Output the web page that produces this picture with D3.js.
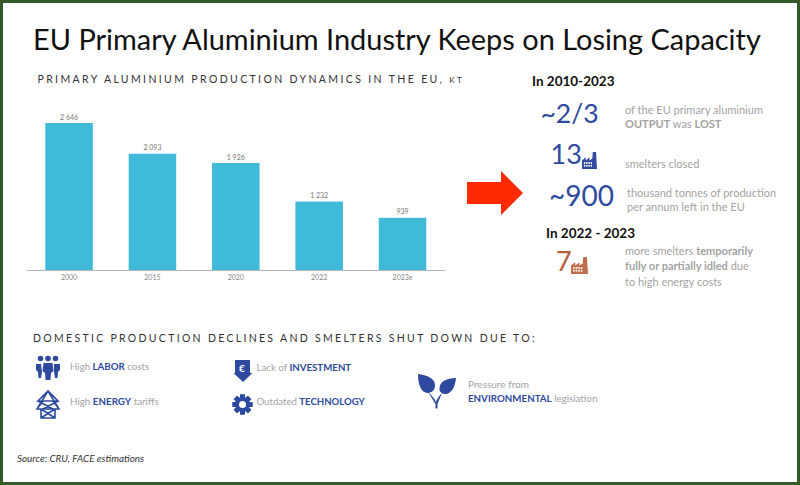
<!DOCTYPE html>
<html><head><meta charset="utf-8">
<script src="https://cdn.jsdelivr.net/npm/d3@7/dist/d3.min.js"></script>
<style>html,body{margin:0;padding:0;background:#fff}svg{display:block}text{font-family:Lato,sans-serif}</style>
</head><body><svg id="c" width="800" height="485"></svg>
<script>
const categories=["2000","2015","2020","2022","2023e"];
const values=[2646,2093,1926,1232,939];
const valueLabels=["2 646","2 093","1 926","1 232","939"];
const BLUE="#2e4a9e",GREY="#a3a3a3",BAR="#3fbad9",BROWN="#b5613a";

const svg=d3.select("#c");
svg.append("rect").attr("x",1.5).attr("y",1.5).attr("width",797).attr("height",482)
  .attr("fill","#fff").attr("stroke","#335a28").attr("stroke-width",3);

function txt(x,y,size,fill,parts,opts={}){
  const t=svg.append("text").attr("x",x).attr("y",y).attr("font-size",size).attr("fill",fill);
  if(opts.ls)t.attr("letter-spacing",opts.ls);
  if(opts.anchor)t.attr("text-anchor",opts.anchor);
  if(opts.italic)t.attr("font-style","italic");
  if(opts.weight)t.attr("font-weight",opts.weight);
  (Array.isArray(parts)?parts:[parts]).forEach(p=>{
    if(typeof p==="string")t.append("tspan").text(p);
    else{const s=t.append("tspan").text(p.t);if(p.b)s.attr("font-weight",700);if(p.c)s.attr("fill",p.c);if(p.s)s.attr("font-size",p.s);}
  });
  return t;
}

txt(33,50,28.95,"#111","EU Primary Aluminium Industry Keeps on Losing Capacity");
txt(37.5,83,10.5,"#333",["PRIMARY ALUMINIUM PRODUCTION DYNAMICS IN THE EU, ",{t:"KT",s:8}],{ls:"2.37"});

const x=d3.scaleBand().domain(categories).range([45.3,426.3]).paddingInner(0.43).paddingOuter(0);
const y=d3.scaleLinear().domain([0,2646]).range([270,123]);
svg.append("g").selectAll("rect").data(values).join("rect")
  .attr("x",(d,i)=>x(categories[i])).attr("width",x.bandwidth())
  .attr("y",d=>y(d)).attr("height",d=>y(0)-y(d)).attr("fill",BAR);
svg.append("g").selectAll("text").data(values).join("text")
  .attr("x",(d,i)=>x(categories[i])+x.bandwidth()/2).attr("y",d=>y(d)-3.5)
  .attr("text-anchor","middle").attr("font-size",7).attr("fill","#777")
  .text((d,i)=>valueLabels[i]);
const ax=svg.append("g").attr("transform","translate(0,270)")
  .call(d3.axisBottom(x).tickSize(0).tickPadding(5));
ax.select(".domain").remove();
ax.selectAll("text").attr("font-size",7).attr("fill","#888").style("font-family","Lato,sans-serif");
svg.append("line").attr("x1",27).attr("x2",445).attr("y1",270.5).attr("y2",270.5).attr("stroke","#b5b8bb").attr("stroke-width",1);

// red arrow
svg.append("path").attr("d","M467 182H501V171L523 193L501 215V204H467Z").attr("fill","#ff2a00");

// right column
txt(532,86,13.5,"#111","In 2010-2023",{weight:700});
txt(540.5,123,26.5,BLUE,"~2/3");
txt(625,114,11,GREY,"of the EU primary aluminium");
txt(625,128,11,GREY,[{t:"OUTPUT",b:1}," was ",{t:"LOST",b:1}]);
txt(550.5,164,27,BLUE,"13");
factory(582,152,15,17,BLUE);
txt(625,168,11,GREY,"smelters closed");
txt(549,206,28,BLUE,"~900");
txt(627,197,11,GREY,"thousand tonnes of production");
txt(627,211,11,GREY,"per annum left in the EU");
txt(546,238,13.5,"#111","In 2022 - 2023",{weight:700});
txt(556,271,27,BROWN,"7");
factory(571,257,17,17,"#bf6f4c");
txt(625,255,11,GREY,["more smelters ",{t:"temporarily",b:1}]);
txt(625,270,11,GREY,[{t:"fully or partially idled",b:1}," due"]);
txt(625,286,11,GREY,"to high energy costs");

function factory(px,py,w,h,c){
  const g=svg.append("g").attr("transform",`translate(${px},${py}) scale(${w/16},${h/16})`);
  g.append("path").attr("fill",c).attr("d","M0 16V8L4 5V8L8 5V8L11 6L11.5 0H15L16 16Z");
  for(let r=0;r<2;r++)for(let k=0;k<4;k++)
    g.append("rect").attr("x",2+k*2.4).attr("y",9.5+r*2.6).attr("width",1.5).attr("height",1.7).attr("fill","#fff");
}

// lower section
txt(33,342,10.5,"#333","DOMESTIC PRODUCTION DECLINES AND SMELTERS SHUT DOWN DUE TO:",{ls:"2.3"});

// people icon
const p=svg.append("g").attr("fill",BLUE);
[[40.5,358.5],[48,358.5],[55.5,358.5]].forEach(([cx,cy])=>p.append("circle").attr("cx",cx).attr("cy",cy).attr("r",2.8));
p.append("path").attr("d","M36 364H41L42 372L41 378H38.5L38 372L36 370Z");
p.append("path").attr("d","M54 364H60V370L58 372L57.5 378H55L54 372Z");
p.append("path").attr("d","M43.5 363H52.5L53.5 371L51 373L50.5 380H45.5L45 373L42.5 371Z");

// pylon icon
const py=svg.append("g").attr("fill","none").attr("stroke",BLUE).attr("stroke-width",1.6);
py.append("path").attr("d","M48 391L38 401H58ZM48 391L37 409H59ZM43 401L37 409M53 401L59 409M41 409V418H55V409M41 409L55 418M55 409L41 418M38 401L53 409M58 401L43 409");

txt(70,370,9.7,GREY,["High ",{t:"LABOR",b:1,c:BLUE}," costs"]);
txt(70,405,9.8,GREY,["High ",{t:"ENERGY",b:1,c:BLUE}," tariffs"]);

// euro arrow
svg.append("path").attr("fill",BLUE).attr("d","M235 360H250V373H252.5L243 382L233.5 373H235Z");
txt(239,372,10,"#fff","€",{weight:700});
txt(256.5,371,9.7,GREY,["Lack of ",{t:"INVESTMENT",b:1,c:BLUE}]);

// gear icon
const gear=svg.append("g").attr("transform","translate(242.5,404.5)");
gear.append("circle").attr("r",7.5).attr("fill",BLUE);
d3.range(8).forEach(i=>gear.append("rect").attr("x",-2.4).attr("y",-10).attr("width",4.8).attr("height",20)
  .attr("fill",BLUE).attr("transform",`rotate(${i*45})`));
gear.append("circle").attr("r",3.5).attr("fill","#fff");
txt(256.5,405,9.6,GREY,["Outdated ",{t:"TECHNOLOGY",b:1,c:BLUE}]);

// sprout icon
const sp=svg.append("g").attr("fill",BLUE);
sp.append("path").attr("d","M418 374C426 375 435 378 435 385C435 391 431 393 427 393C421 392 418 385 418 374Z");
sp.append("path").attr("d","M456 378C450 378 440 380 439.5 388C439 392 442 394 446 394C452 393 455 387 456 378Z");
sp.append("path").attr("d","M428 392C432 396 435 399 436 402C437 399 439 396 442 393L437.5 404L437.5 408.5H435.5V404Z");
txt(468,388,10,GREY,"Pressure from");
txt(468,402,9.75,GREY,[{t:"ENVIRONMENTAL",b:1,c:BLUE}," legislation"]);

txt(17,462,9.9,"#333","Source: CRU, FACE estimations",{italic:1});
</script></body></html>
